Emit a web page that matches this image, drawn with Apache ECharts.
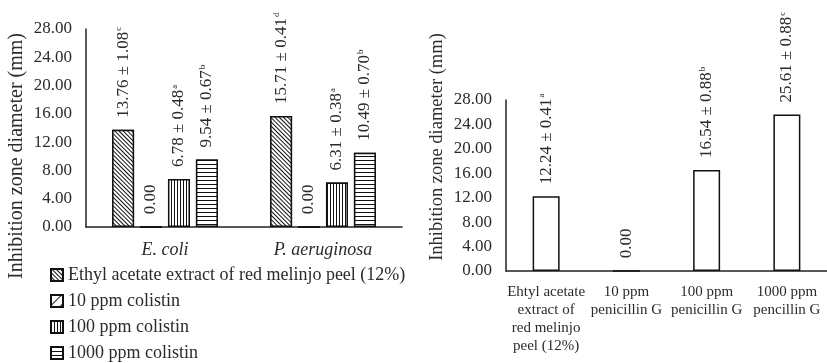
<!DOCTYPE html>
<html>
<head>
<meta charset="utf-8">
<script src="https://cdn.jsdelivr.net/npm/echarts@6/dist/echarts.min.js"></script>
<style>
  html, body { margin: 0; padding: 0; background: #fff; }
  #chart { width: 827px; height: 363px; }
</style>
</head>
<body>
<div id="chart"></div>
<script>
// Gram-negative panel (colistin controls)
const bacteria = ['E. coli', 'P. aeruginosa'];
const seriesNames = [
  'Ethyl acetate extract of red melinjo peel (12%)',
  '10 ppm colistin',
  '100 ppm colistin',
  '1000 ppm colistin'
];
const extractMean = [13.76, 15.71];
const extractSd = [1.08, 0.41];
const extractSig = ['c', 'd'];
const colistin10Mean = [0, 0];
const colistin10Sd = [null, null];
const colistin10Sig = ['', ''];
const colistin100Mean = [6.78, 6.31];
const colistin100Sd = [0.48, 0.38];
const colistin100Sig = ['a', 'a'];
const colistin1000Mean = [9.54, 10.49];
const colistin1000Sd = [0.67, 0.70];
const colistin1000Sig = ['b', 'b'];

// Gram-positive panel (penicillin G controls)
const treatments = [
  'Ehtyl acetate\nextract of\nred melinjo\npeel (12%)',
  '10 ppm\npenicillin G',
  '100 ppm\npenicillin G',
  '1000 ppm\npencillin G'
];
const penMean = [12.24, 0, 16.54, 25.61];
const penSd = [0.41, null, 0.88, 0.88];
const penSig = ['a', '', 'b', 'c'];

const yTicks = { min: 0, max: 28, interval: 4 };
const yTitle = 'Inhibition zone diameter (mm)';

const SERIF = '"Liberation Serif", "Times New Roman", serif';
const INK = '#2b2b2b';

function labelText(mean, sd, sig) {
  let s = '{v|' + mean.toFixed(2);
  if (sd != null) s += ' \u00b1 ' + sd.toFixed(2);
  s += '}';
  if (sig) s += '{s|' + sig + '}';
  return s;
}

function makeData(means, sds, sigs) {
  return means.map((m, i) => ({ value: m, lbl: labelText(m, sds[i], sigs[i]) }));
}

const barLabel = {
  show: true,
  position: 'top',
  rotate: 90,
  align: 'left',
  verticalAlign: 'middle',
  distance: 12,
  formatter: p => p.data.lbl,
  rich: {
    v: { fontFamily: SERIF, fontSize: 17, color: INK },
    s: { fontFamily: SERIF, fontSize: 9, color: INK, verticalAlign: 'top', padding: [0, 0, 6, 1] }
  }
};

function hatched(decal) {
  return Object.assign({
    symbol: 'rect',
    symbolSize: 1,
    color: '#111',
    backgroundColor: '#fff'
  }, decal);
}

const patterns = [
  hatched({ dashArrayX: [1, 2], dashArrayY: [4, 0], rotation: -Math.PI / 4 }),
  hatched({ dashArrayX: [1, 6], dashArrayY: [4, 0], rotation: Math.PI / 4 }),
  hatched({ dashArrayX: [1, 2], dashArrayY: [4, 0], rotation: 0 }),
  hatched({ dashArrayX: [4, 0], dashArrayY: [1, 3], rotation: 0 })
];

const groupData = [
  makeData(extractMean, extractSd, extractSig),
  makeData(colistin10Mean, colistin10Sd, colistin10Sig),
  makeData(colistin100Mean, colistin100Sd, colistin100Sig),
  makeData(colistin1000Mean, colistin1000Sd, colistin1000Sig)
];

const axisLine = { show: true, lineStyle: { color: '#222', width: 1.5 } };

const valueAxis = (gridIndex) => ({
  type: 'value',
  gridIndex,
  min: yTicks.min,
  max: yTicks.max,
  interval: yTicks.interval,
  axisLine,
  axisTick: { show: false },
  splitLine: { show: false },
  axisLabel: {
    margin: 14,
    fontFamily: SERIF,
    fontSize: 17,
    color: INK,
    formatter: v => v.toFixed(2)
  }
});

const leftSeries = seriesNames.map((name, i) => ({
  name,
  type: 'bar',
  xAxisIndex: 0,
  yAxisIndex: 0,
  barWidth: 22,
  barGap: '27%',
  data: groupData[i],
  itemStyle: {
    color: '#fff',
    borderColor: '#111',
    borderWidth: 1.5,
    decal: patterns[i]
  },
  label: barLabel
}));

const chart = echarts.init(document.getElementById('chart'), null, { renderer: 'canvas' });

chart.setOption({
  backgroundColor: '#fff',
  animation: false,
  grid: [
    { left: 86, top: 29, width: 316, height: 198 },
    { left: 506, top: 100, width: 328, height: 171 }
  ],
  xAxis: [
    {
      type: 'category',
      gridIndex: 0,
      data: bacteria,
      axisLine,
      axisTick: { show: false },
      axisLabel: {
        margin: 14,
        fontFamily: SERIF,
        fontStyle: 'italic',
        fontSize: 18,
        color: INK
      }
    },
    {
      type: 'category',
      gridIndex: 1,
      data: treatments,
      axisLine,
      axisTick: { show: false },
      axisLabel: {
        interval: 0,
        margin: 12,
        fontFamily: SERIF,
        fontSize: 15,
        lineHeight: 18,
        color: INK,
        align: 'center'
      }
    }
  ],
  yAxis: [valueAxis(0), valueAxis(1)],
  legend: {
    data: seriesNames,
    orient: 'vertical',
    left: 50,
    top: 266,
    padding: 0,
    height: 110,
    itemWidth: 12,
    itemHeight: 12,
    itemGap: 8,
    icon: 'rect',
    textStyle: { fontFamily: SERIF, fontSize: 18, lineHeight: 18, color: INK }
  },
  graphic: [
    {
      type: 'text',
      x: 17, y: 156,
      rotation: Math.PI / 2,
      style: {
        text: yTitle,
        font: '20px ' + SERIF,
        fill: INK,
        textAlign: 'center',
        textVerticalAlign: 'middle'
      }
    },
    {
      type: 'text',
      x: 437, y: 147,
      rotation: Math.PI / 2,
      style: {
        text: yTitle,
        font: '18.5px ' + SERIF,
        fill: INK,
        textAlign: 'center',
        textVerticalAlign: 'middle'
      }
    }
  ],
  series: leftSeries.concat([{
    name: 'Penicillin G panel',
    type: 'bar',
    xAxisIndex: 1,
    yAxisIndex: 1,
    barWidth: 27,
    data: makeData(penMean, penSd, penSig),
    itemStyle: { color: '#fff', borderColor: '#111', borderWidth: 1.5 },
    label: barLabel
  }])
});
</script>
</body>
</html>
